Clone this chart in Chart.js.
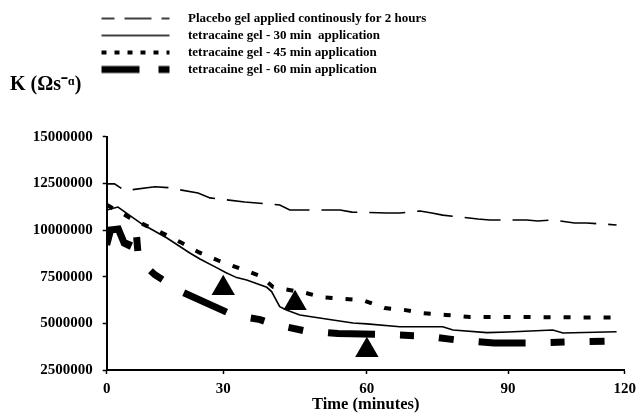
<!DOCTYPE html>
<html>
<head>
<meta charset="utf-8">
<script src="https://cdn.jsdelivr.net/npm/chart.js@4.4.1/dist/chart.umd.min.js"></script>
<style>
  html, body { margin: 0; padding: 0; background: #ffffff; }
  canvas { display: block; }
</style>
</head>
<body>
<canvas id="chart" width="642" height="413"></canvas>
<script>
// ---------------- data ----------------
const SERIES_LABELS = [
  'Placebo gel applied continously for 2 hours',
  'tetracaine gel - 30 min  application',
  'tetracaine gel - 45 min application',
  'tetracaine gel - 60 min application'
];

// Time (minutes) and K values for each series
const placeboTime = [0, 2, 4.7, 12.4, 15.8, 23.5, 26.6, 34.5, 37, 41.8, 43.9, 46.6, 54.4, 56.9, 64.2, 67, 71.3, 73.8, 76.1, 83.6, 86.1, 94.8, 97.6, 101.5, 107.1, 110.2, 117.9];
const placeboK    = [12470000, 12470000, 12110000, 12320000, 12270000, 11980000, 11720000, 11500000, 11450000, 11340000, 11070000, 11070000, 11070000, 10960000, 10910000, 10910000, 11020000, 10910000, 10800000, 10590000, 10540000, 10540000, 10480000, 10540000, 10380000, 10380000, 10270000];

const min30Time = [0, 2.9, 9.1, 15.5, 21.4, 24, 28.4, 30.5, 32.8, 34.9, 39.1, 40.1, 41.8, 43.2, 46, 52.9, 57.1, 60, 67, 76.1, 78.3, 85.5, 90, 101.5, 104.1, 117.9];
const min30K    = [11070000, 11230000, 10320000, 9570000, 8770000, 8450000, 7970000, 7720000, 7450000, 7320000, 6930000, 6700000, 5890000, 5720000, 5450000, 5180000, 5020000, 4970000, 4820000, 4820000, 4640000, 4500000, 4540000, 4640000, 4480000, 4550000];

const min45Time = [0, 6, 10, 13.7, 19.4, 23.8, 29, 33.5, 37.7, 40.4, 47.5, 50.4, 54.6, 59, 63.8, 67.9, 71.9, 76.8, 81.9, 90, 100, 117.9];
const min45K    = [11350000, 10650000, 10250000, 9900000, 9300000, 8800000, 8340000, 7940000, 7540000, 6950000, 6610000, 6410000, 6320000, 6250000, 5820000, 5720000, 5550000, 5450000, 5340000, 5340000, 5330000, 5310000];

const min60Time = [0, 1, 3, 4.5, 5.5, 7.5, 8.2, 12.4, 19.7, 32, 37.7, 40.5, 47, 54, 64, 70, 72.5, 79, 87, 96, 105, 118];
const min60K    = [9200000, 10000000, 10050000, 9300000, 9200000, 10150000, 8400000, 7600000, 6650000, 5450000, 5200000, 4950000, 4600000, 4450000, 4400000, 4340000, 4320000, 4110000, 3950000, 3950000, 4000000, 4050000];

// end-of-application markers (triangles)
const markerTime = [30, 45, 60];
const markerK    = [6880000, 6070000, 3560000];

// axes
const X_TICK_VALUES = [0, 30, 60, 90, 120];
const X_TICK_LABELS = ['0', '30', '60', '90', '120'];
const Y_TICK_VALUES = [2500000, 5000000, 7500000, 10000000, 12500000, 15000000];
const Y_TICK_LABELS = ['2500000', '5000000', '7500000', '10000000', '12500000', '15000000'];
const X_TITLE = 'Time (minutes)';
const Y_TITLE = 'K (\u03A9s\u207B\u1D45)';

// ---------------- x scale with unequal tick spacing (as in the original) ----------------
const X_SEGMENT_WEIGHTS = [116.6, 143.7, 141.3, 116.7];
class SegmentedScale extends Chart.LinearScale {
  static id = 'segmented';
  static defaults = {};
  _toDecimal(v) {
    const b = X_TICK_VALUES, w = X_SEGMENT_WEIGHTS;
    const total = w.reduce((a, c) => a + c, 0);
    let acc = 0;
    for (let i = 0; i < w.length; i++) {
      if (v <= b[i + 1] || i === w.length - 1) {
        return (acc + w[i] * (v - b[i]) / (b[i + 1] - b[i])) / total;
      }
      acc += w[i];
    }
    return 0;
  }
  getPixelForValue(value) {
    if (value === null || value === undefined || isNaN(value)) return NaN;
    return this.getPixelForDecimal(this._toDecimal(value));
  }
  getValueForPixel(pixel) {
    const d = this.getDecimalForPixel(pixel);
    const b = X_TICK_VALUES, w = X_SEGMENT_WEIGHTS;
    const total = w.reduce((a, c) => a + c, 0);
    let acc = 0;
    for (let i = 0; i < w.length; i++) {
      const f = w[i] / total;
      if (d <= acc + f || i === w.length - 1) return b[i] + (d - acc) / f * (b[i + 1] - b[i]);
      acc += f;
    }
    return 0;
  }
}
Chart.register(SegmentedScale);

function pts(ts, ks) { return ts.map((t, i) => ({ x: t, y: ks[i] })); }

// ---------------- legend line samples (style of the original legend keys) ----------------
const LEGEND_KEY_STYLES = [
  { dash: [27, 10], offset: 14, width: 1.5 },
  { dash: [], offset: 0, width: 1.5 },
  { dash: [5, 8], offset: 0, width: 4 },
  { dash: [38, 19, 11, 30], offset: 0, width: 7 }
];
function makeKey(st) {
  const c = document.createElement('canvas');
  c.width = 90; c.height = 10;
  const g = c.getContext('2d');
  g.strokeStyle = '#000';
  g.lineWidth = st.width;
  g.lineCap = 'butt';
  g.setLineDash(st.dash);
  g.lineDashOffset = st.offset;
  g.beginPath();
  g.moveTo(10, 5);
  g.lineTo(78, 5);
  g.stroke();
  return c;
}
const LEGEND_KEYS = LEGEND_KEY_STYLES.map(makeKey);

Chart.defaults.font.family = "'Liberation Serif', 'Times New Roman', serif";
Chart.defaults.font.weight = 'bold';
Chart.defaults.color = '#000000';

const legendShift = {
  id: 'legendShift',
  afterLayout(chart) {
    const lg = chart.legend;
    if (lg) { lg.left -= 19.2; lg.right -= 19.2; }
  }
};

new Chart(document.getElementById('chart'), {
  type: 'line',
  data: {
    datasets: [
      { label: SERIES_LABELS[0], data: pts(placeboTime, placeboK), borderColor: '#000', backgroundColor: '#000',
        borderWidth: 1.6, borderDash: [36, 12], borderDashOffset: 20, pointRadius: 0, tension: 0 },
      { label: SERIES_LABELS[1], data: pts(min30Time, min30K), borderColor: '#000', backgroundColor: '#000',
        borderWidth: 1.6, pointRadius: 0, tension: 0 },
      { label: SERIES_LABELS[2], data: pts(min45Time, min45K), borderColor: '#000', backgroundColor: '#000',
        borderWidth: 4, borderDash: [7, 13], pointRadius: 0, tension: 0 },
      { label: SERIES_LABELS[3], data: pts(min60Time, min60K), borderColor: '#000', backgroundColor: '#000',
        borderWidth: 7, borderDash: [47, 25, 14, 25, 15, 25], pointRadius: 0, tension: 0 },
      { label: 'markers', data: pts(markerTime, markerK), showLine: false, pointStyle: 'triangle',
        pointRadius: 13.5, pointHoverRadius: 13.5, pointBackgroundColor: '#000', pointBorderColor: '#000', pointBorderWidth: 0 }
    ]
  },
  options: {
    responsive: false,
    animation: false,
    devicePixelRatio: 1,
    layout: { padding: { left: 10, right: 17, top: 8, bottom: 0 } },
    plugins: {
      tooltip: { enabled: false },
      legend: {
        display: true,
        position: 'top',
        align: 'start',
        fullSize: false,
        labels: {
          usePointStyle: true,
          pointStyleWidth: 90,
          boxHeight: 13,
          padding: 4,
          color: '#000',
          font: { size: 13, weight: 'bold', family: "'Liberation Serif', serif" },
          generateLabels: (chart) => {
            const items = Chart.defaults.plugins.legend.labels.generateLabels(chart);
            return items.filter(it => it.datasetIndex < 4).map(it => Object.assign(it, { pointStyle: LEGEND_KEYS[it.datasetIndex] }));
          }
        }
      },
      title: {
        display: true,
        text: Y_TITLE,
        align: 'start',
        weight: 500,
        color: '#000',
        font: { size: 20, weight: 'bold', family: "'Liberation Serif', serif" },
        padding: { top: -13, bottom: 39.7 }
      }
    },
    scales: {
      x: {
        type: 'segmented',
        min: 0, max: 120,
        ticks: {
          stepSize: 30,
          color: '#000',
          padding: 6,
          maxRotation: 0,
          font: { size: 15, weight: 'bold' },
          callback: (v) => X_TICK_LABELS[X_TICK_VALUES.indexOf(v)]
        },
        grid: { display: true, drawOnChartArea: false, drawTicks: true, tickLength: 4, tickColor: '#000', tickWidth: 1.5 },
        border: { display: true, color: '#000', width: 2 },
        title: { display: true, text: X_TITLE, color: '#000', font: { size: 16.5, weight: 'bold' }, padding: { top: 0, bottom: -2 } },
        afterFit: (s) => { s.height = 43; }
      },
      y: {
        type: 'linear',
        min: 2500000, max: 15000000,
        ticks: {
          stepSize: 2500000,
          color: '#000',
          padding: 10,
          font: { size: 15, weight: 'bold' },
          callback: (v) => Y_TICK_LABELS[Y_TICK_VALUES.indexOf(v)]
        },
        grid: { display: true, drawOnChartArea: false, drawTicks: true, tickLength: 4, tickColor: '#000', tickWidth: 1.5 },
        border: { display: true, color: '#000', width: 2 },
        afterFit: (s) => { s.width = 96.7; }
      }
    }
  },
  plugins: [legendShift]
});
</script>
</body>
</html>
